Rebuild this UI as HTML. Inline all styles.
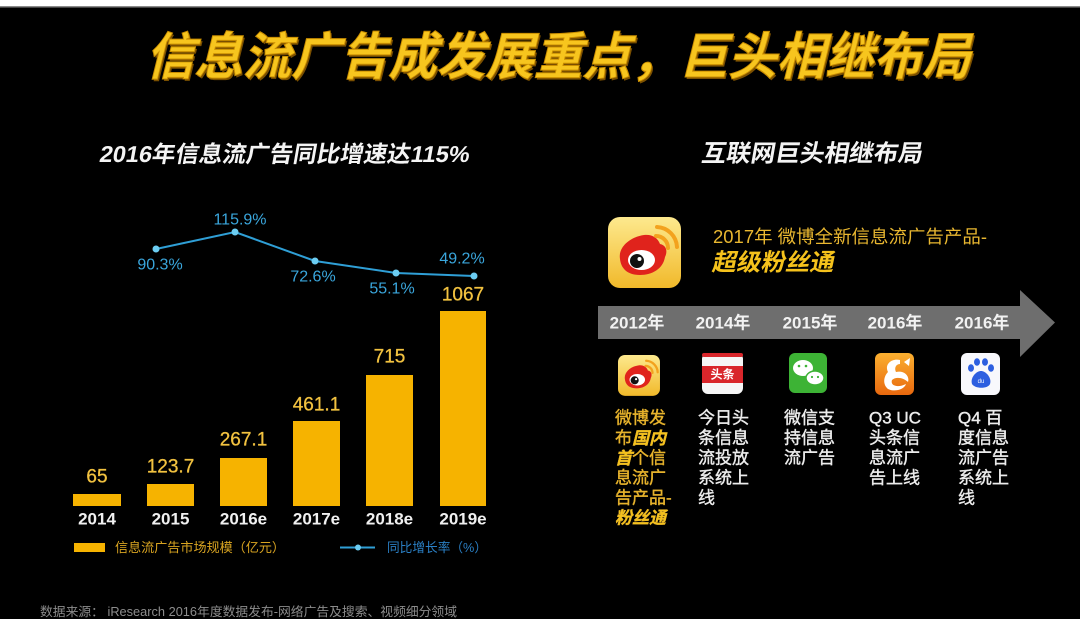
<!DOCTYPE html>
<html><head><meta charset="utf-8">
<style>
html,body{margin:0;padding:0;background:#000;}
body{width:1080px;height:619px;overflow:hidden;position:relative;}
svg{position:absolute;left:0;top:0;display:block;}
text{font-family:"Liberation Sans","Noto Sans CJK SC",sans-serif;}
</style></head><body>
<svg width="1080" height="619" viewBox="0 0 1080 619" xmlns="http://www.w3.org/2000/svg">
<defs>
  <linearGradient id="wbg" x1="0" y1="0" x2="0" y2="1">
    <stop offset="0" stop-color="#fde98e"/><stop offset="1" stop-color="#f1b92a"/>
  </linearGradient>
  <linearGradient id="ucg" x1="0" y1="0" x2="0" y2="1">
    <stop offset="0" stop-color="#fbb030"/><stop offset="1" stop-color="#e8680e"/>
  </linearGradient>
  <g id="weibo">
    <rect x="0" y="0" width="73" height="71" rx="12" fill="url(#wbg)"/>
    <path d="M12,42 C10,30 22,20 36,18 C44,17 50,21 52,27 C58,28 60,34 57,40 C55,52 44,58 32,58 C20,58 13,52 12,42 Z" fill="#e0231c"/>
    <ellipse cx="33.5" cy="43" rx="13.5" ry="10" fill="#fff"/>
    <circle cx="29" cy="44" r="7" fill="#111"/>
    <circle cx="31.5" cy="42" r="2" fill="#fff"/>
    <path d="M48,19 A12,12 0 0 1 60,31" fill="none" stroke="#f3a21e" stroke-width="4" stroke-linecap="round"/>
    <path d="M49,10 A21,21 0 0 1 69,30" fill="none" stroke="#f3a21e" stroke-width="4" stroke-linecap="round"/>
  </g>
</defs>
<rect width="1080" height="619" fill="#000"/>
<rect width="1080" height="6" fill="#fff"/>
<rect y="6" width="1080" height="1.5" fill="#8a8a8a"/>

<!-- Title -->
<g transform="translate(562,57) skewX(-14) translate(-562,-57)">
  <text x="152" y="59" font-size="51" font-weight="bold" fill="#7a4f00" dominant-baseline="central" textLength="825" lengthAdjust="spacingAndGlyphs">信息流广告成发展重点，巨头相继布局</text>
  <text x="150" y="57" font-size="51" font-weight="bold" fill="#f7c51e" stroke="#c98d00" stroke-width="1" dominant-baseline="central" textLength="825" lengthAdjust="spacingAndGlyphs">信息流广告成发展重点，巨头相继布局</text>
</g>

<!-- Subtitles -->
<g transform="translate(285,154) skewX(-10) translate(-285,-154)">
  <text x="100" y="154" font-size="23" font-weight="bold" fill="#f4f4f4" dominant-baseline="central" textLength="370" lengthAdjust="spacingAndGlyphs">2016年信息流广告同比增速达115%</text>
</g>
<g transform="translate(812,154) skewX(-10) translate(-812,-154)">
  <text x="702" y="154" font-size="24" font-weight="bold" fill="#f4f4f4" dominant-baseline="central" textLength="221" lengthAdjust="spacingAndGlyphs">互联网巨头相继布局</text>
</g>

<!-- Bars -->
<g fill="#f6b300">
  <rect x="73" y="494" width="48" height="12"/>
  <rect x="147" y="484" width="47" height="22"/>
  <rect x="220" y="458" width="47" height="48"/>
  <rect x="293" y="421" width="47" height="85"/>
  <rect x="366" y="375" width="47" height="131"/>
  <rect x="440" y="311" width="46" height="195"/>
</g>
<g font-size="19" fill="#f2c240" stroke="#f2c240" stroke-width="0.3" text-anchor="middle" dominant-baseline="central">
  <text x="97" y="477">65</text>
  <text x="170.5" y="467">123.7</text>
  <text x="243.5" y="440">267.1</text>
  <text x="316.5" y="405">461.1</text>
  <text x="389.5" y="357">715</text>
  <text x="463" y="295">1067</text>
</g>
<g font-size="17" font-weight="bold" fill="#f0f0f0" text-anchor="middle" dominant-baseline="central">
  <text x="97" y="519">2014</text>
  <text x="170.5" y="519">2015</text>
  <text x="243.5" y="519">2016e</text>
  <text x="316.5" y="519">2017e</text>
  <text x="389.5" y="519">2018e</text>
  <text x="463" y="519">2019e</text>
</g>

<!-- Line -->
<polyline points="156,249 235,232 315,261 396,273 474,276" fill="none" stroke="#2f9fd6" stroke-width="2"/>
<g fill="#6ccdf2">
  <circle cx="156" cy="249" r="3.5"/><circle cx="235" cy="232" r="3.5"/><circle cx="315" cy="261" r="3.5"/><circle cx="396" cy="273" r="3.5"/><circle cx="474" cy="276" r="3.5"/>
</g>
<g font-size="16" fill="#3aa6dc" text-anchor="middle" dominant-baseline="central">
  <text x="160" y="265">90.3%</text>
  <text x="240" y="220">115.9%</text>
  <text x="313" y="277">72.6%</text>
  <text x="392" y="289">55.1%</text>
  <text x="462" y="259">49.2%</text>
</g>

<!-- Legend -->
<rect x="74" y="543" width="31" height="9" fill="#f6b300"/>
<text x="115" y="547.5" font-size="13" fill="#d9a421" dominant-baseline="central" textLength="170" lengthAdjust="spacingAndGlyphs">信息流广告市场规模（亿元）</text>
<line x1="340" y1="547.5" x2="375" y2="547.5" stroke="#2f9fd6" stroke-width="2"/>
<circle cx="358" cy="547.5" r="3" fill="#6ccdf2"/>
<text x="387" y="547.5" font-size="13" fill="#2a7fc4" dominant-baseline="central" textLength="100" lengthAdjust="spacingAndGlyphs">同比增长率（%）</text>

<!-- Footer -->
<text x="40" y="612" font-size="12.5" fill="#8c8c8c" dominant-baseline="central" textLength="417" lengthAdjust="spacingAndGlyphs">数据来源： iResearch 2016年度数据发布-网络广告及搜索、视频细分领域</text>

<!-- Right: big weibo icon -->
<use href="#weibo" transform="translate(608,217)"/>
<text x="713" y="237" font-size="18" fill="#e9b730" dominant-baseline="central" textLength="274" lengthAdjust="spacingAndGlyphs">2017年 微博全新信息流广告产品-</text>
<g transform="translate(774,263) skewX(-12) translate(-774,-263)">
  <text x="713" y="263" font-size="24" font-weight="bold" fill="#f5c21c" dominant-baseline="central" textLength="122" lengthAdjust="spacingAndGlyphs">超级粉丝通</text>
</g>

<!-- Arrow -->
<polygon points="598,306 1020,306 1020,290 1055,322.5 1020,357 1020,339 598,339" fill="#6e6e6e"/>
<g font-size="17" font-weight="bold" fill="#f2f2f2" text-anchor="middle" dominant-baseline="central">
  <text x="637" y="323">2012年</text>
  <text x="723" y="323">2014年</text>
  <text x="810" y="323">2015年</text>
  <text x="895" y="323">2016年</text>
  <text x="982" y="323">2016年</text>
</g>

<!-- Small icons -->
<use href="#weibo" transform="translate(618,355) scale(0.575)"/>
<!-- toutiao -->
<g>
  <rect x="702" y="353" width="41" height="41" rx="6" fill="#f6f6f6"/>
  <rect x="702" y="353" width="41" height="4" rx="2" fill="#d9262b"/>
  <rect x="702" y="366" width="41" height="17" fill="#d9262b"/>
  <text x="722.5" y="374.5" font-size="12" font-weight="bold" fill="#fff" text-anchor="middle" dominant-baseline="central">头条</text>
</g>
<!-- wechat -->
<g>
  <rect x="789" y="353" width="38" height="40" rx="6" fill="#3db335"/>
  <ellipse cx="803" cy="368" rx="10" ry="8" fill="#fff"/>
  <ellipse cx="815" cy="378" rx="9" ry="7" fill="#fff" stroke="#3db335" stroke-width="1.5"/>
  <circle cx="799" cy="366" r="1.3" fill="#3db335"/><circle cx="806" cy="366" r="1.3" fill="#3db335"/>
  <circle cx="812" cy="377" r="1.1" fill="#3db335"/><circle cx="818" cy="377" r="1.1" fill="#3db335"/>
</g>
<!-- UC -->
<g>
  <rect x="875" y="353" width="39" height="42" rx="6" fill="url(#ucg)"/>
  <path d="M900,360 C892,358 884,364 888,372 C884,376 882,384 888,389 C894,392 904,390 906,384 C898,388 890,386 892,380 C896,376 904,378 908,382 C910,376 904,370 896,372 C894,368 896,364 900,364 Z" fill="#fff"/>
  <path d="M904,362 L910,358 L909,366 Z" fill="#fff"/>
</g>
<!-- Baidu -->
<g>
  <rect x="961" y="353" width="39" height="42" rx="6" fill="#f8f8fc"/>
  <ellipse cx="971" cy="368" rx="3" ry="3.8" fill="#2d5fe0"/>
  <ellipse cx="977" cy="362" rx="3" ry="3.8" fill="#2d5fe0"/>
  <ellipse cx="985" cy="362" rx="3" ry="3.8" fill="#2d5fe0"/>
  <ellipse cx="991" cy="368" rx="3" ry="3.8" fill="#2d5fe0"/>
  <path d="M972,384 C970,378 976,371 981,371 C986,371 992,378 990,384 C988,389 975,389 972,384 Z" fill="#2d5fe0"/>
  <text x="981" y="382" font-size="6" fill="#fff" text-anchor="middle" dominant-baseline="central">du</text>
</g>

<!-- Column texts -->
<g font-size="17" dominant-baseline="central">
  <g fill="#e6b22c" stroke="#e6b22c" stroke-width="0.4">
    <text x="615" y="418">微博发</text>
    <text x="615" y="438">布<tspan font-weight="bold" font-style="italic" fill="#f5c21c">国内</tspan></text>
    <text x="615" y="458"><tspan font-weight="bold" font-style="italic" fill="#f5c21c">首</tspan>个信</text>
    <text x="615" y="478">息流广</text>
    <text x="615" y="498">告产品-</text>
    <text x="615" y="518" font-weight="bold" font-style="italic" fill="#f5c21c">粉丝通</text>
  </g>
  <g fill="#ececec" stroke="#ececec" stroke-width="0.4">
    <text x="698" y="418">今日头</text>
    <text x="698" y="438">条信息</text>
    <text x="698" y="458">流投放</text>
    <text x="698" y="478">系统上</text>
    <text x="698" y="498">线</text>

    <text x="784" y="418">微信支</text>
    <text x="784" y="438">持信息</text>
    <text x="784" y="458">流广告</text>

    <text x="869" y="418">Q3 UC</text>
    <text x="869" y="438">头条信</text>
    <text x="869" y="458">息流广</text>
    <text x="869" y="478">告上线</text>

    <text x="958" y="418">Q4 百</text>
    <text x="958" y="438">度信息</text>
    <text x="958" y="458">流广告</text>
    <text x="958" y="478">系统上</text>
    <text x="958" y="498">线</text>
  </g>
</g>
</svg>
</body></html>
